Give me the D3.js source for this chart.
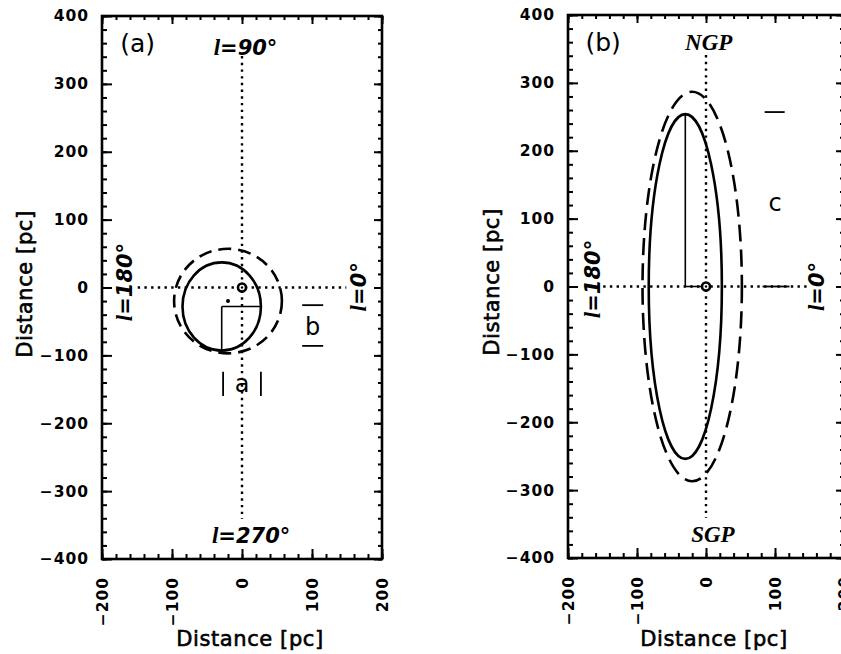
<!DOCTYPE html>
<html><head><meta charset="utf-8">
<script src="https://cdn.jsdelivr.net/npm/d3@7"></script>
<style>body{margin:0;background:#fff} svg{display:block}</style>
</head><body>
<svg id="c" width="841" height="654"></svg>
<script>
// ---- data ----
const xTickValues = [-200, -100, 0, 100, 200];
const yTickValues = [400, 300, 200, 100, 0, -100, -200, -300, -400];
const panelLabels = ["(a)", "(b)"];
const topLabels = ["l=90°", "NGP"];
const bottomLabels = ["l=270°", "SGP"];
const leftLabels = ["l=180°", "l=180°"];
const rightLabels = ["l=0°", "l=0°"];
const solidCenters = [[-29, -28], [-30, 0]];
const solidRadii = [[56, 65], [53, 254]];
const dashedCenters = [[-20, -20], [-20, 0]];
const dashedRadii = [[77, 77], [72, 287]];
const sunPos = [0, 0];
const axisTitle = "Distance [pc]";

// ---- layout ----
const boxes = [
  {x0: 102, x1: 382, y0: 16, y1: 559, ytx: 25, yty: 284, dash: "13 7"},
  {x0: 568, x1: 844, y0: 15, y1: 558, ytx: 492, yty: 282, dash: "17 8"}
];
const svg = d3.select("#c");
const minor = d3.range(-400, 401, 20);
const minorX = d3.range(-200, 201, 20);
const sans = "'DejaVu Sans', sans-serif";
const serif = "'Liberation Serif', serif";

// text with a serif italic "l" followed by the rest in sans bold italic
function lLabel(sel, txt) {
  if (txt.startsWith("l=")) {
    sel.append("tspan").attr("font-family", serif).attr("font-size", "1.1em").text("l");
    sel.append("tspan").text(txt.slice(1));
  } else sel.text(txt);
}

boxes.forEach((b, i) => {
  const x = d3.scaleLinear().domain([-200, 200]).range([b.x0, b.x1]);
  const y = d3.scaleLinear().domain([-400, 400]).range([b.y1, b.y0]);
  const g = svg.append("g");

  // ticks (inward, all four sides)
  const tickCfg = [
    [d3.axisLeft, y, `translate(${b.x0},0)`, minor, yTickValues, -5, -10],
    [d3.axisRight, y, `translate(${b.x1},0)`, minor, yTickValues, -4, -8],
    [d3.axisBottom, x, `translate(0,${b.y1})`, minorX, xTickValues, -5, -10],
    [d3.axisTop, x, `translate(0,${b.y0})`, minorX, xTickValues, -4, -8]
  ];
  tickCfg.forEach(([ax, sc, tr, mn, mj, s1, s2]) => {
    [[mn, s1], [mj, s2]].forEach(([vals, s]) => {
      g.append("g").attr("transform", tr)
        .call(ax(sc).tickValues(vals).tickSize(s).tickFormat(""))
        .call(a => a.select(".domain").remove())
        .selectAll("line").attr("stroke", "#000").attr("stroke-width", 2);
    });
  });

  // tick labels
  g.append("g").attr("transform", `translate(${b.x0},0)`)
    .call(d3.axisLeft(y).tickValues(yTickValues).tickSize(0).tickPadding(13))
    .call(a => a.select(".domain").remove())
    .selectAll("text").attr("font-family", sans).attr("font-weight", "bold")
    .attr("font-size", 15.5).attr("letter-spacing", 1).attr("fill", "#000");
  g.append("g").attr("transform", `translate(0,${b.y1})`)
    .call(d3.axisBottom(x).tickValues(xTickValues).tickSize(0))
    .call(a => a.select(".domain").remove())
    .selectAll("text").attr("font-family", sans).attr("font-weight", "bold")
    .attr("font-size", 15.5).attr("letter-spacing", 1).attr("fill", "#000")
    .attr("transform", "rotate(-90)").attr("text-anchor", "end")
    .attr("x", -18).attr("y", 0).attr("dy", "0.35em");

  // frame
  g.append("rect").attr("x", b.x0).attr("y", b.y0)
    .attr("width", b.x1 - b.x0).attr("height", b.y1 - b.y0)
    .attr("fill", "none").attr("stroke", "#000").attr("stroke-width", 2.6);

  // axis titles
  g.append("text").attr("x", (b.x0 + b.x1) / 2 + 8).attr("y", 646)
    .attr("text-anchor", "middle").attr("font-family", sans).attr("font-size", 21)
    .attr("stroke", "#000").attr("stroke-width", 0.6)
    .attr("letter-spacing", 0.6).text(axisTitle);
  g.append("text").attr("transform", `translate(${b.ytx},${b.yty}) rotate(-90)`)
    .attr("text-anchor", "middle").attr("dy", "0.35em").attr("font-family", sans)
    .attr("stroke", "#000").attr("stroke-width", 0.6)
    .attr("font-size", 21).attr("letter-spacing", 0.6).text(axisTitle);

  // dotted axes through the Sun
  const dot = {stroke: "#000", "stroke-width": 2.4, "stroke-dasharray": "2.4 4.3"};
  const vl = g.append("line").attr("x1", x(sunPos[0])).attr("x2", x(sunPos[0]))
    .attr("y1", y(341)).attr("y2", y(-341));
  const hl = g.append("line").attr("x1", x(-149)).attr("x2", x(149))
    .attr("y1", y(sunPos[1])).attr("y2", y(sunPos[1]));
  [vl, hl].forEach(l => Object.entries(dot).forEach(([k, v]) => l.attr(k, v)));

  // ellipses
  const sc = solidCenters[i], sr = solidRadii[i];
  const dc = dashedCenters[i], dr = dashedRadii[i];
  g.append("ellipse").attr("cx", x(sc[0])).attr("cy", y(sc[1]))
    .attr("rx", x(sr[0]) - x(0)).attr("ry", y(0) - y(sr[1]))
    .attr("fill", "none").attr("stroke", "#000").attr("stroke-width", 2.6);
  g.append("ellipse").attr("cx", x(dc[0])).attr("cy", y(dc[1]))
    .attr("rx", x(dr[0]) - x(0)).attr("ry", y(0) - y(dr[1]))
    .attr("fill", "none").attr("stroke", "#000").attr("stroke-width", 2.6)
    .attr("stroke-dasharray", b.dash);

  // semi-axis lines
  const thin = (x1, y1, x2, y2, w) => g.append("line")
    .attr("x1", x(x1)).attr("y1", y(y1)).attr("x2", x(x2)).attr("y2", y(y2))
    .attr("stroke", "#000").attr("stroke-width", w || 1.6);
  if (i === 0) {
    thin(sc[0], sc[1], sc[0], sc[1] - sr[1]);
    thin(sc[0], sc[1], sc[0] + sr[0], sc[1]);
    g.append("circle").attr("cx", x(dc[0])).attr("cy", y(dc[1])).attr("r", 2).attr("fill", "#000");
    // |a| label
    thin(-27, -124, -27, -160, 1.8);
    thin(27, -124, 27, -160, 1.8);
    g.append("text").attr("x", x(0)).attr("y", y(-142)).attr("dy", "0.35em")
      .attr("text-anchor", "middle").attr("font-family", sans).attr("font-size", 24).text("a");
    // b label
    thin(86, -26, 116, -26, 1.8);
    thin(86, -86, 116, -86, 1.8);
    g.append("text").attr("x", x(101)).attr("y", y(-57)).attr("dy", "0.35em")
      .attr("text-anchor", "middle").attr("font-family", sans).attr("font-size", 24).text("b");
  } else {
    thin(sc[0], sc[1], sc[0], sc[1] + sr[1]);
    thin(sc[0], sc[1], sunPos[0], sunPos[1]);
    // c label
    thin(85, 257, 114, 257, 1.8);
    thin(82, 0, 121, 0, 1.8);
    g.append("text").attr("x", x(100)).attr("y", y(124)).attr("dy", "0.35em")
      .attr("text-anchor", "middle").attr("font-family", sans).attr("font-size", 24).text("c");
  }

  // Sun
  g.append("circle").attr("cx", x(sunPos[0])).attr("cy", y(sunPos[1])).attr("r", 4)
    .attr("fill", "#fff").attr("stroke", "#000").attr("stroke-width", 2.6);
  g.append("circle").attr("cx", x(sunPos[0])).attr("cy", y(sunPos[1])).attr("r", 1.2).attr("fill", "#000");

  // panel label
  g.append("text").attr("x", x(-149)).attr("y", y(360)).attr("dy", "0.35em")
    .attr("text-anchor", "middle").attr("font-family", sans).attr("font-size", 25).text(panelLabels[i]);

  // direction labels
  const isSerif = i === 1;
  const fTop = isSerif ? serif : sans;
  const fsTop = isSerif ? 23 : 21;
  g.append("text").attr("x", x(i === 0 ? 5 : 4)).attr("y", y(i === 0 ? 342 : 349))
    .attr("text-anchor", "middle").attr("font-family", fTop).attr("font-weight", "bold")
    .attr("font-style", "italic").attr("font-size", fsTop)
    .call(s => lLabel(s, topLabels[i]));
  g.append("text").attr("x", x(i === 0 ? 13 : 10)).attr("y", y(-376))
    .attr("text-anchor", "middle").attr("font-family", fTop).attr("font-weight", "bold")
    .attr("font-style", "italic").attr("font-size", fsTop)
    .call(s => lLabel(s, bottomLabels[i]));
  const lx = i === 0 ? [-168, 166] : [-164, 161];
  const ly = i === 0 ? [8, 1] : [11, 0];
  g.append("text").attr("transform", `translate(${x(lx[0])},${y(ly[0])}) rotate(-90)`)
    .attr("text-anchor", "middle").attr("dy", "0.35em").attr("font-family", sans)
    .attr("font-weight", "bold").attr("font-style", "italic").attr("font-size", 21)
    .call(s => lLabel(s, leftLabels[i]));
  g.append("text").attr("transform", `translate(${x(lx[1])},${y(ly[1])}) rotate(-90)`)
    .attr("text-anchor", "middle").attr("dy", "0.35em").attr("font-family", sans)
    .attr("font-weight", "bold").attr("font-style", "italic").attr("font-size", 21)
    .call(s => lLabel(s, rightLabels[i]));
});
</script>
</body></html>
